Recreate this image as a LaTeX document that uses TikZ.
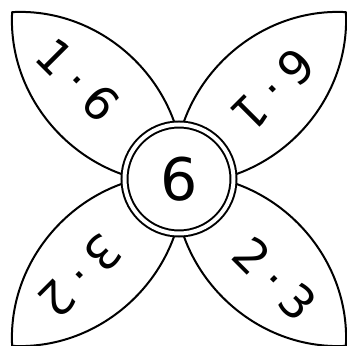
\documentclass[tikz,border=0pt]{standalone}
\usepackage{fontspec}
\setmainfont{DejaVu Sans}
\tikzset{
  petal/.style={draw=black,fill=white,line width=1.5pt,line join=round},
  hubring/.style={circle,draw=black,fill=white,line width=1.5pt,
                  double=white,double distance=3pt,minimum size=81.75pt,
                  inner sep=0pt,font=\fontsize{44}{44}\selectfont},
  fact/.style={inner sep=0pt,font=\fontsize{35}{35}\selectfont},
}
\begin{document}
\begin{tikzpicture}[x=0.75pt,y=0.75pt]
        \useasboundingbox (-179,-167) rectangle (168,179);
        % petal ends
        \coordinate (baseNW) at (135:-6);  \coordinate (tipNW) at (135:236);
        \coordinate (baseNE) at (45:-6);   \coordinate (tipNE) at (45:236);
        \coordinate (baseSW) at (225:-6);  \coordinate (tipSW) at (225:236);
        \coordinate (baseSE) at (315:-6);  \coordinate (tipSE) at (315:236);
        \draw[petal] (baseNW) to[bend left=48] (tipNW) to[bend left=48] (baseNW) -- cycle;
        \draw[petal] (baseNE) to[bend left=48] (tipNE) to[bend left=48] (baseNE) -- cycle;
        \draw[petal] (baseSW) to[bend left=48] (tipSW) to[bend left=48] (baseSW) -- cycle;
        \draw[petal] (baseSE) to[bend left=48] (tipSE) to[bend left=48] (baseSE) -- cycle;
        \node[hubring] (hub) at (0,0) {6};
        \node[fact,rotate=-45] (fact16) at (-101,99) {1\hspace{8pt}·\hspace{8pt}6};
        \node[fact,rotate=-135] (fact61) at (94,89) {6\hspace{8pt}·\hspace{8pt}1};
        \node[fact,rotate=-135] (fact32) at (-99,-97) {3\hspace{8pt}·\hspace{8pt}2};
        \node[fact,rotate=-45] (fact23) at (96,-100) {2\hspace{8pt}·\hspace{8pt}3};
      \end{tikzpicture}
\end{document}
